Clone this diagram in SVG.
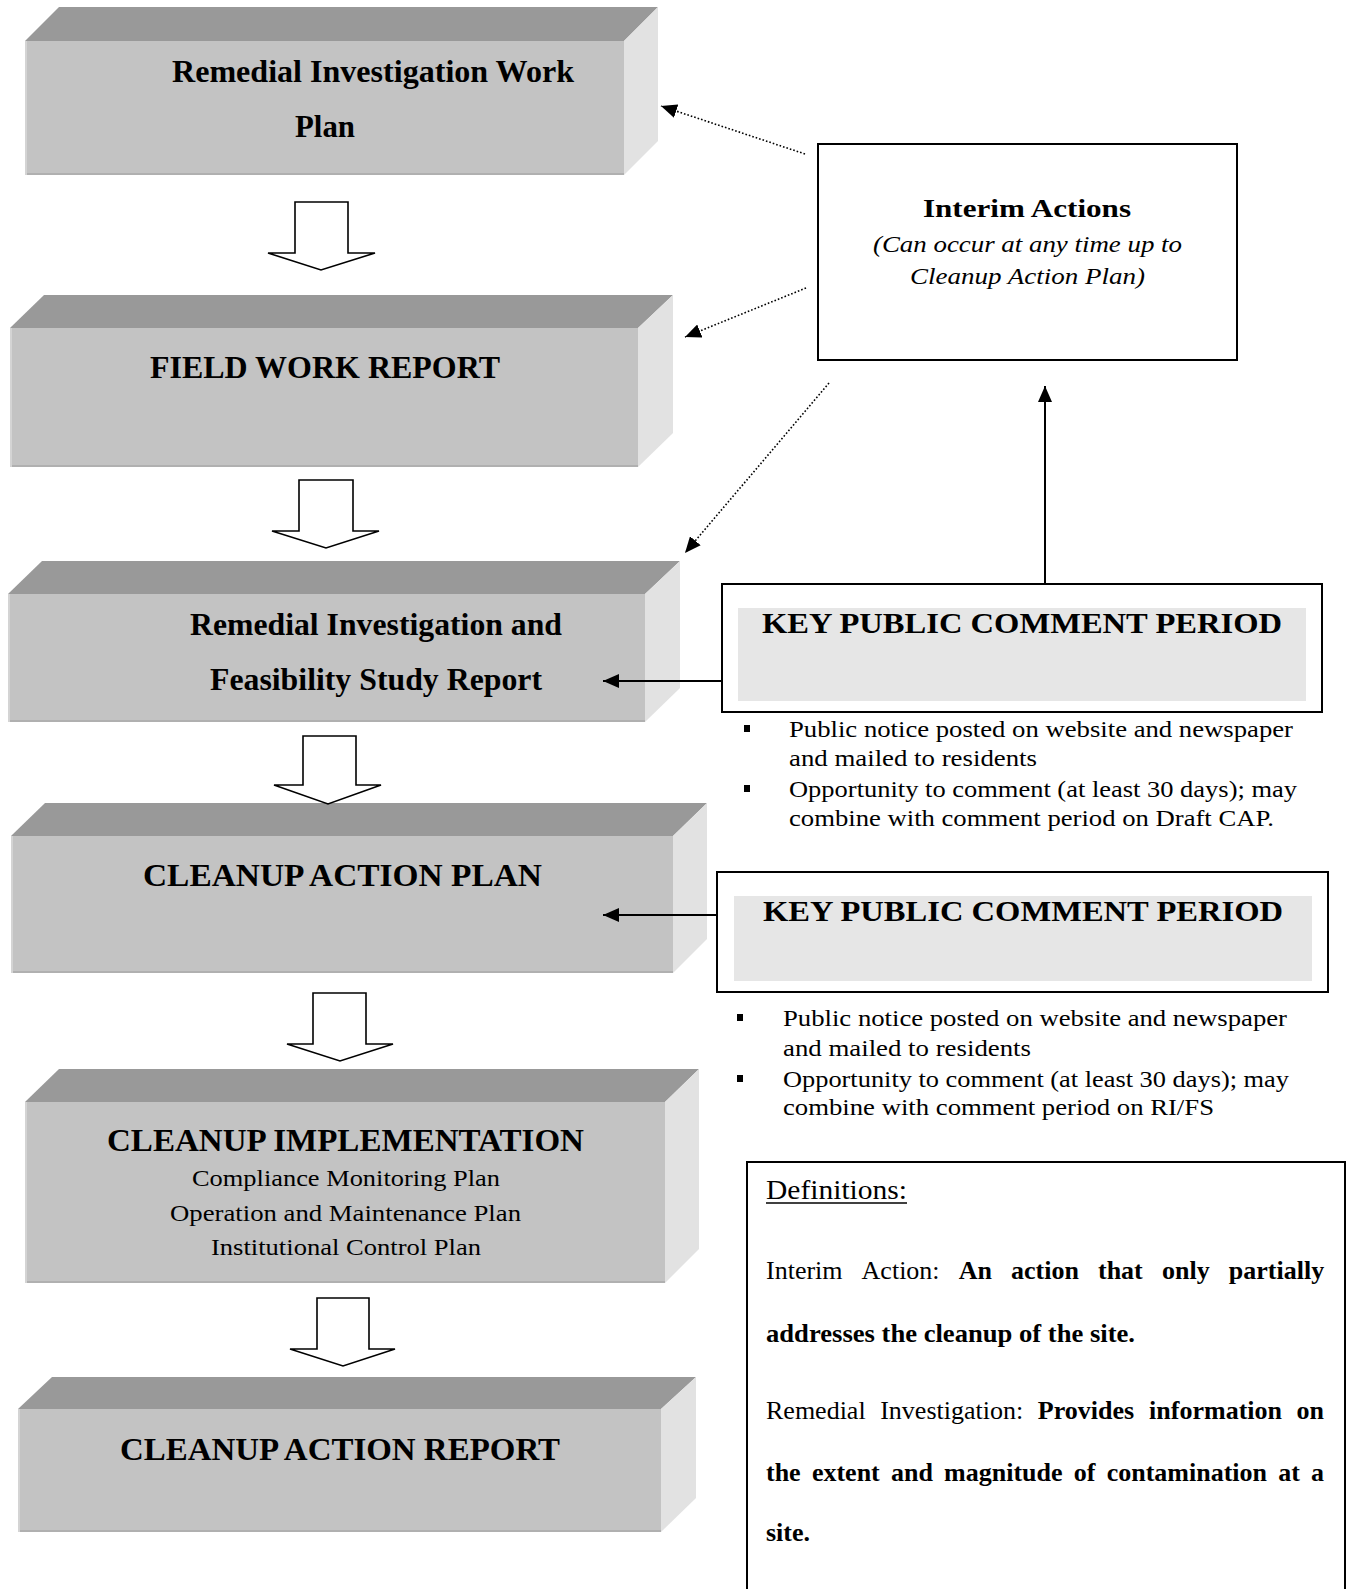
<svg xmlns="http://www.w3.org/2000/svg" width="1347" height="1589" viewBox="0 0 1347 1589">
<style>
.top{fill:#999999}
.front{fill:#c3c3c3}
.side{fill:#e2e2e2}
.bl{stroke:#b0b0b0;stroke-width:2}
.ll{stroke:#d4d4d4;stroke-width:2}
.tb{font-family:"Liberation Serif","Times New Roman",serif;font-weight:bold;font-size:32px;fill:#000}
.pb{font-family:"Liberation Serif","Times New Roman",serif;font-weight:bold;font-size:31px;fill:#000}
.pr{font-family:"Liberation Serif","Times New Roman",serif;font-size:23px;fill:#000}
.bul{font-family:"Liberation Serif","Times New Roman",serif;font-size:24px;fill:#000}
.it{font-family:"Liberation Serif","Times New Roman",serif;font-style:italic;font-size:24px;fill:#000}
.dr{font-family:"Liberation Serif","Times New Roman",serif;font-size:26px;fill:#000}
.db{font-family:"Liberation Serif","Times New Roman",serif;font-size:26px;font-weight:bold;fill:#000}
.blk{fill:#fff;stroke:#000;stroke-width:1.6;stroke-linejoin:miter}
.box{fill:#fff;stroke:#000;stroke-width:2}
.dot{fill:none;stroke:#000;stroke-width:1.6;stroke-dasharray:1.6 2}
.sol{fill:none;stroke:#000;stroke-width:2}
</style>
<defs>
<marker id="ah" markerUnits="userSpaceOnUse" markerWidth="16" markerHeight="14" refX="16" refY="7" orient="auto">
<path d="M0,0 L16,7 L0,14 z" fill="#000"/>
</marker>
</defs>

<g id="node-riwp">
<polygon class="top" points="25,41 59,7 658,7 624,41"/>
<polygon class="side" points="624,41 658,7 658,141 624,175"/>
<rect class="front" x="25" y="41" width="599" height="134"/>
<line class="bl" x1="25" y1="174" x2="624" y2="174"/>
<line class="ll" x1="26" y1="41" x2="26" y2="175"/>
<text class="tb" x="172" y="82" textLength="402" lengthAdjust="spacingAndGlyphs">Remedial Investigation Work</text>
<text class="tb" x="295" y="137" textLength="60" lengthAdjust="spacingAndGlyphs">Plan</text>
</g>

<g id="node-fwr">
<polygon class="top" points="10,328 44,295 673,295 638,328"/>
<polygon class="side" points="638,328 673,295 673,433 638,467"/>
<rect class="front" x="10" y="328" width="628" height="139"/>
<line class="bl" x1="10" y1="466" x2="638" y2="466"/>
<line class="ll" x1="11" y1="328" x2="11" y2="467"/>
<text class="tb" x="150" y="378" textLength="350" lengthAdjust="spacingAndGlyphs">FIELD WORK REPORT</text>
</g>

<g id="node-rifs">
<polygon class="top" points="8,594 42,561 680,561 645,594"/>
<polygon class="side" points="645,594 680,561 680,688 645,722"/>
<rect class="front" x="8" y="594" width="637" height="128"/>
<line class="bl" x1="8" y1="721" x2="645" y2="721"/>
<line class="ll" x1="9" y1="594" x2="9" y2="722"/>
<text class="tb" x="190" y="635" textLength="372" lengthAdjust="spacingAndGlyphs">Remedial Investigation and</text>
<text class="tb" x="210" y="690" textLength="332" lengthAdjust="spacingAndGlyphs">Feasibility Study Report</text>
</g>

<g id="node-cap">
<polygon class="top" points="11,836 45,803 707,803 673,836"/>
<polygon class="side" points="673,836 707,803 707,939 673,973"/>
<rect class="front" x="11" y="836" width="662" height="137"/>
<line class="bl" x1="11" y1="972" x2="673" y2="972"/>
<line class="ll" x1="12" y1="836" x2="12" y2="973"/>
<text class="pb" x="143" y="886" textLength="399" lengthAdjust="spacingAndGlyphs">CLEANUP ACTION PLAN</text>
</g>

<g id="node-ci">
<polygon class="top" points="25,1102 59,1069 699,1069 665,1102"/>
<polygon class="side" points="665,1102 699,1069 699,1249 665,1283"/>
<rect class="front" x="25" y="1102" width="640" height="181"/>
<line class="bl" x1="25" y1="1282" x2="665" y2="1282"/>
<line class="ll" x1="26" y1="1102" x2="26" y2="1283"/>
<text class="pb" x="107" y="1151" textLength="477" lengthAdjust="spacingAndGlyphs">CLEANUP IMPLEMENTATION</text>
<text class="pr" x="192" y="1186" textLength="308" lengthAdjust="spacingAndGlyphs">Compliance Monitoring Plan</text>
<text class="pr" x="170" y="1221" textLength="351" lengthAdjust="spacingAndGlyphs">Operation and Maintenance Plan</text>
<text class="pr" x="211" y="1255" textLength="270" lengthAdjust="spacingAndGlyphs">Institutional Control Plan</text>
</g>

<g id="node-car">
<polygon class="top" points="18,1409 52,1377 696,1377 661,1409"/>
<polygon class="side" points="661,1409 696,1377 696,1498 661,1532"/>
<rect class="front" x="18" y="1409" width="643" height="123"/>
<line class="bl" x1="18" y1="1531" x2="661" y2="1531"/>
<line class="ll" x1="19" y1="1409" x2="19" y2="1532"/>
<text class="pb" x="120" y="1460" textLength="440" lengthAdjust="spacingAndGlyphs">CLEANUP ACTION REPORT</text>
</g>

<g id="node-interim">
<rect class="box" x="818" y="144" width="419" height="216"/>
<text class="tb" x="923" y="217" style="font-size:26px" textLength="208" lengthAdjust="spacingAndGlyphs">Interim Actions</text>
<text class="it" x="873" y="252" textLength="309" lengthAdjust="spacingAndGlyphs">(Can occur at any time up to</text>
<text class="it" x="910" y="284" textLength="235" lengthAdjust="spacingAndGlyphs">Cleanup Action Plan)</text>
</g>

<g id="node-kpcp1">
<rect class="box" x="722" y="584" width="600" height="128"/>
<rect x="738" y="608" width="568" height="93" fill="#e6e6e6"/>
<text class="pb" x="762" y="633" style="font-size:30px" textLength="520" lengthAdjust="spacingAndGlyphs">KEY PUBLIC COMMENT PERIOD</text>
<rect x="744" y="725" width="6" height="7" fill="#000"/>
<text class="bul" x="789" y="737" textLength="504" lengthAdjust="spacingAndGlyphs">Public notice posted on website and newspaper</text>
<text class="bul" x="789" y="766" textLength="248" lengthAdjust="spacingAndGlyphs">and mailed to residents</text>
<rect x="744" y="785" width="6" height="7" fill="#000"/>
<text class="bul" x="789" y="797" textLength="508" lengthAdjust="spacingAndGlyphs">Opportunity to comment (at least 30 days); may</text>
<text class="bul" x="789" y="826" textLength="485" lengthAdjust="spacingAndGlyphs">combine with comment period on Draft CAP.</text>
</g>

<g id="node-kpcp2">
<rect class="box" x="717" y="872" width="611" height="120"/>
<rect x="734" y="896" width="578" height="85" fill="#e6e6e6"/>
<text class="pb" x="763" y="921" style="font-size:30px" textLength="520" lengthAdjust="spacingAndGlyphs">KEY PUBLIC COMMENT PERIOD</text>
<rect x="737" y="1014" width="6" height="7" fill="#000"/>
<text class="bul" x="783" y="1026" textLength="504" lengthAdjust="spacingAndGlyphs">Public notice posted on website and newspaper</text>
<text class="bul" x="783" y="1056" textLength="248" lengthAdjust="spacingAndGlyphs">and mailed to residents</text>
<rect x="737" y="1075" width="6" height="7" fill="#000"/>
<text class="bul" x="783" y="1087" textLength="506" lengthAdjust="spacingAndGlyphs">Opportunity to comment (at least 30 days); may</text>
<text class="bul" x="783" y="1115" textLength="431" lengthAdjust="spacingAndGlyphs">combine with comment period on RI/FS</text>
</g>

<g id="node-definitions">
<rect class="box" x="747" y="1162" width="598" height="440"/>
<text class="dr" x="766" y="1199" style="font-size:28px" textLength="141" lengthAdjust="spacingAndGlyphs">Definitions:</text>
<line x1="766" y1="1203" x2="907" y2="1203" stroke="#000" stroke-width="1.5"/>
<text class="dr" y="1279"><tspan x="766">Interim</tspan><tspan x="861.6">Action:</tspan></text>
<text class="db" y="1279"><tspan x="958.7">An</tspan><tspan x="1011">action</tspan><tspan x="1098">that</tspan><tspan x="1162">only</tspan><tspan x="1228.8">partially</tspan></text>
<text class="db" x="766" y="1342" textLength="369" lengthAdjust="spacingAndGlyphs">addresses the cleanup of the site.</text>
<text class="dr" y="1419"><tspan x="766">Remedial</tspan><tspan x="880.2">Investigation:</tspan></text>
<text class="db" y="1419"><tspan x="1037.8">Provides</tspan><tspan x="1149.1">information</tspan><tspan x="1296.5">on</tspan></text>
<text class="db" y="1481"><tspan x="766">the</tspan><tspan x="811.9">extent</tspan><tspan x="891">and</tspan><tspan x="944.1">magnitude</tspan><tspan x="1073.8">of</tspan><tspan x="1106.7">contamination</tspan><tspan x="1278.2">at</tspan><tspan x="1311.1">a</tspan></text>
<text class="db" x="766" y="1541">site.</text>
</g>

<g id="connectors">
<polygon class="blk" points="295,202 348,202 348,253 375,253 321,270 268,253 295,253"/>
<polygon class="blk" points="299,480 353,480 353,531 379,531 326,548 272,531 299,531"/>
<polygon class="blk" points="303,736 356,736 356,785 381,785 328,804 274,785 303,785"/>
<polygon class="blk" points="313,993 366,993 366,1044 393,1044 340,1061 287,1044 313,1044"/>
<polygon class="blk" points="317,1298 369,1298 369,1349 395,1349 343,1366 290,1349 317,1349"/>
<line class="dot" x1="805" y1="154" x2="661" y2="106" marker-end="url(#ah)"/>
<line class="dot" x1="806" y1="288" x2="685" y2="337" marker-end="url(#ah)"/>
<line class="dot" x1="829" y1="383" x2="685" y2="553" marker-end="url(#ah)"/>
<line class="sol" x1="1045" y1="584" x2="1045" y2="386" marker-end="url(#ah)"/>
<line class="sol" x1="722" y1="681" x2="603" y2="681" marker-end="url(#ah)"/>
<line class="sol" x1="717" y1="915" x2="603" y2="915" marker-end="url(#ah)"/>
</g>
</svg>
